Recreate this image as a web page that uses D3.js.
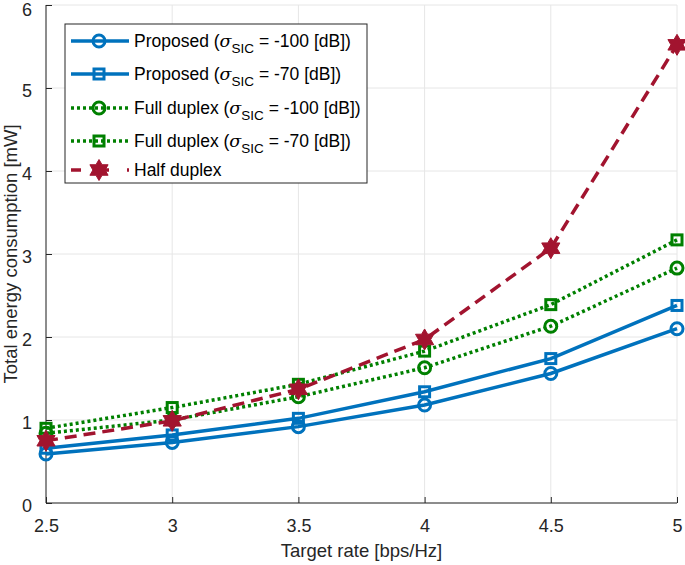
<!DOCTYPE html>
<html><head><meta charset="utf-8">
<script src="https://cdn.jsdelivr.net/npm/d3@7"></script>
<style>body{margin:0;background:#fff}svg{font-family:"Liberation Sans",Arial,sans-serif}</style>
</head><body><svg id="c" width="685" height="565"></svg>
<script>
const rates = [2.5, 3, 3.5, 4, 4.5, 5];
const proposed100 = [0.59, 0.73, 0.92, 1.18, 1.56, 2.10];
const proposed70 = [0.66, 0.82, 1.02, 1.34, 1.74, 2.38];
const fullDuplex100 = [0.84, 1.00, 1.28, 1.63, 2.13, 2.83];
const fullDuplex70 = [0.90, 1.15, 1.43, 1.83, 2.39, 3.17];
const halfDuplex = [0.75, 0.99, 1.37, 1.97, 3.07, 5.52];
const xTicks = [2.5, 3, 3.5, 4, 4.5, 5];
const yTicks = [0, 1, 2, 3, 4, 5, 6];

const series = [
  {name:"Proposed", sic:"-100", vals:proposed100, color:"#0072BD", dash:null, marker:"circle"},
  {name:"Proposed", sic:"-70", vals:proposed70, color:"#0072BD", dash:null, marker:"square"},
  {name:"Full duplex", sic:"-100", vals:fullDuplex100, color:"#008000", dash:"3,3", marker:"circle"},
  {name:"Full duplex", sic:"-70", vals:fullDuplex70, color:"#008000", dash:"3,3", marker:"square"},
  {name:"Half duplex", sic:null, vals:halfDuplex, color:"#A2142F", dash:"12,7", marker:"star"}
];

const svg = d3.select("#c");
const L=46, R=677, T=5, B=503;
const x = d3.scaleLinear().domain([2.5,5]).range([L,R]);
const y = d3.scaleLinear().domain([0,6]).range([B,T]);

// grid
svg.append("g").selectAll("line.gx").data(xTicks).join("line")
  .attr("x1",d=>x(d)).attr("x2",d=>x(d)).attr("y1",T).attr("y2",B)
  .attr("stroke","#e6e6e6").attr("stroke-width",1);
svg.append("g").selectAll("line.gy").data(yTicks).join("line")
  .attr("x1",L).attr("x2",R).attr("y1",d=>y(d)).attr("y2",d=>y(d))
  .attr("stroke","#e6e6e6").attr("stroke-width",1);

// axes
const xa = svg.append("g").attr("transform",`translate(0,${B})`)
  .call(d3.axisBottom(x).tickValues(xTicks).tickSize(-6).tickPadding(16).tickFormat(d3.format("")));
const ya = svg.append("g").attr("transform",`translate(${L},0)`)
  .call(d3.axisLeft(y).tickValues(yTicks).tickSize(-6).tickPadding(14).tickFormat(d3.format("d")));
[xa,ya].forEach(a=>{
  a.select(".domain").attr("stroke","#262626").attr("stroke-width",1);
  a.selectAll(".tick line").attr("stroke","#262626");
  a.selectAll("text").attr("fill","#262626").style("font-size","18px").style("font-family","'Liberation Sans',Arial,sans-serif");
});
ya.selectAll("text").attr("dy",d=>d===6?"10.5px":"0.45em");
xa.select(".domain").attr("d",`M${L},0H${R}`);
ya.select(".domain").attr("d",`M0,${B}V${T}`);

svg.append("text").attr("x",(L+R)/2).attr("y",557).attr("text-anchor","middle")
  .attr("fill","#262626").style("font-size","18.5px").text("Target rate [bps/Hz]");
svg.append("text").attr("transform",`translate(17,${(T+B)/2}) rotate(-90)`).attr("text-anchor","middle")
  .attr("fill","#262626").style("font-size","18.5px").text("Total energy consumption [mW]");

function hexagram(r){
  const pts=[];
  for(let i=0;i<12;i++){
    const a=-Math.PI/2+i*Math.PI/6;
    const rr = i%2===0? r : r*0.58;
    pts.push([rr*Math.cos(a), rr*Math.sin(a)]);
  }
  return "M"+pts.map(p=>p.join(",")).join("L")+"Z";
}
function drawMarker(g, s, cx, cy){
  if(s.marker==="circle"){
    g.append("circle").attr("cx",cx).attr("cy",cy).attr("r",6)
      .attr("fill","none").attr("stroke",s.color).attr("stroke-width",3);
  } else if(s.marker==="square"){
    g.append("rect").attr("x",cx-5).attr("y",cy-5).attr("width",10).attr("height",10)
      .attr("fill","none").attr("stroke",s.color).attr("stroke-width",3);
  } else {
    g.append("path").attr("d",hexagram(10.5)).attr("transform",`translate(${cx},${cy})`)
      .attr("fill",s.color).attr("stroke",s.color).attr("stroke-width",1);
  }
}

const line = d3.line().x((d,i)=>x(rates[i])).y(d=>y(d));
series.forEach(s=>{
  const g = svg.append("g");
  g.append("path").datum(s.vals).attr("d",line).attr("fill","none")
    .attr("stroke",s.color).attr("stroke-width",3.5)
    .attr("stroke-dasharray",s.dash);
  s.vals.forEach((v,i)=>drawMarker(g,s,x(rates[i]),y(v)));
});

// legend
const lg = svg.append("g");
lg.append("rect").attr("x",65).attr("y",24).attr("width",302).attr("height",159)
  .attr("fill","#fff").attr("stroke","#262626").attr("stroke-width",1);
const ly = [41,74,108,141,170];
series.forEach((s,i)=>{
  const yy = ly[i];
  lg.append("line").attr("x1",71).attr("x2",129).attr("y1",yy).attr("y2",yy)
    .attr("stroke",s.color).attr("stroke-width",3.5).attr("stroke-dasharray",s.dash?(s.marker==="star"?"10,18":"3,3"):null);
  drawMarker(lg,s,99,yy);
  const t = lg.append("text").attr("x",134).attr("y",yy+6).attr("fill","#000").style("font-size","17.5px");
  if(s.sic){
    t.append("tspan").text(s.name+" (");
    t.append("tspan").attr("font-family","'DejaVu Serif',serif").attr("font-style","italic").text("σ");
    t.append("tspan").attr("dy",6).style("font-size","13.5px").text("SIC");
    t.append("tspan").attr("dy",-6).text(" = "+s.sic+" [dB])");
  } else {
    t.text(s.name);
  }
});
</script></body></html>
